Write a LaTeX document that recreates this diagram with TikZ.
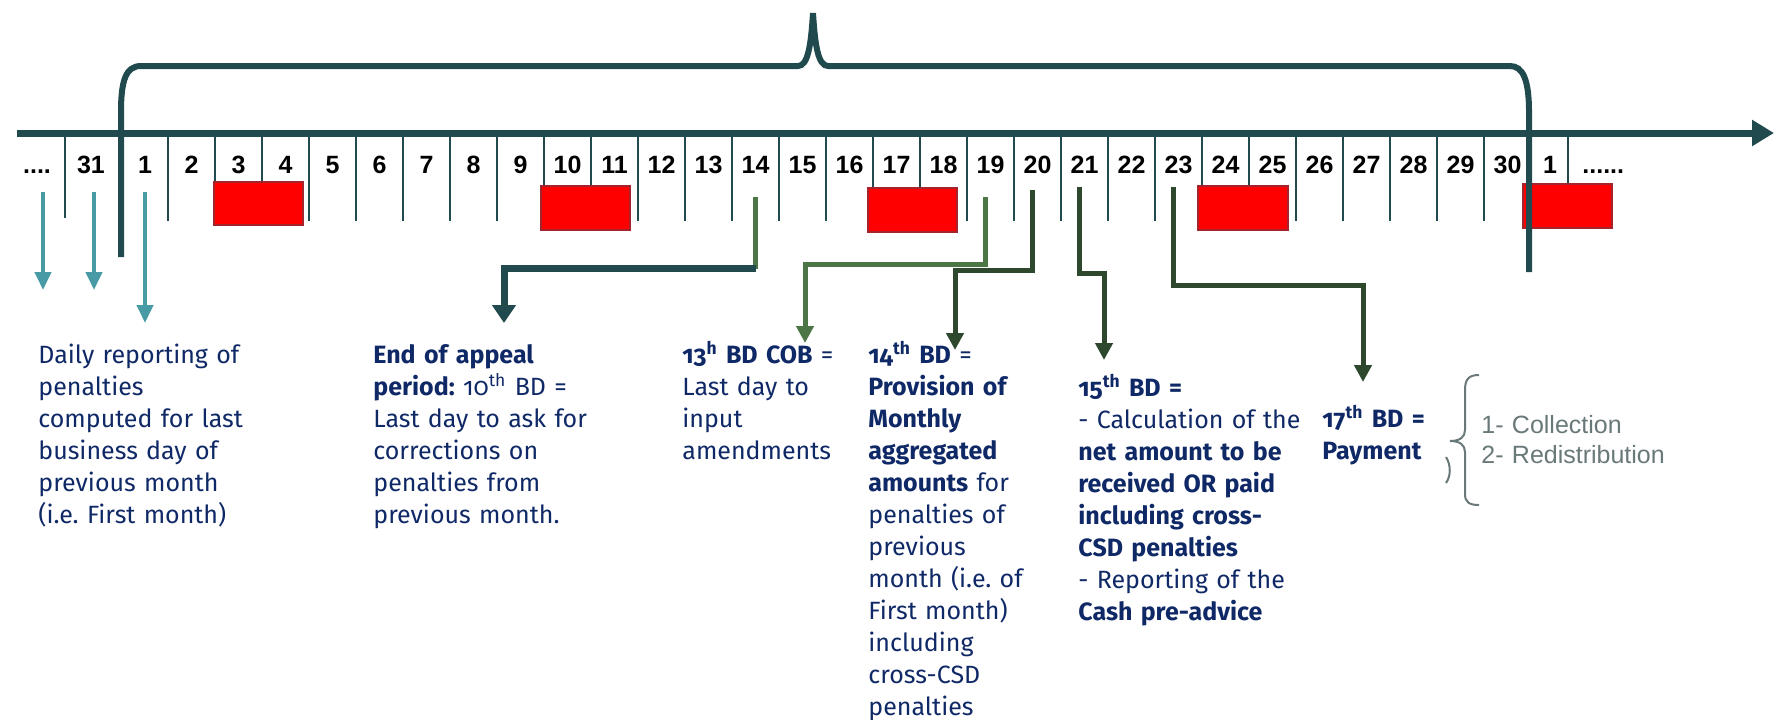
\documentclass[tikz,border=0pt]{standalone}
\usepackage{fontspec}
\setmainfont{Fira Sans}[Numbers=OldStyle,RawFeature=+onum]
\newfontfamily\dayfont{Liberation Sans}
\usetikzlibrary{arrows.meta,positioning,calc}
\frenchspacing

\definecolor{axisteal}{RGB}{33,74,78}
\definecolor{feedteal}{RGB}{72,154,164}
\definecolor{feedgreen}{RGB}{76,118,70}
\definecolor{feeddkgreen}{RGB}{46,72,45}
\definecolor{textnavy}{RGB}{15,40,102}
\definecolor{bracegrey}{RGB}{105,120,120}
\definecolor{holidayedge}{RGB}{165,35,45}

\tikzset{
  axisline/.style={axisteal, line width=3.5pt, -{Triangle[width=12.5pt,length=11pt]}},
  monthbrace/.style={axisteal, line width=3pt},
  daytick/.style={axisteal, line width=1.25pt},
  daylabel/.style={font=\dayfont\bfseries\fontsize{12.5}{14}\selectfont, inner sep=0pt,
    anchor=base, text height=9pt, text depth=0pt},
  holiday/.style={fill=red, draw=holidayedge, line width=1pt},
  notetext/.style={anchor=base west, inner sep=0pt, text width=150pt, align=left,
    text=textnavy, font=\fontsize{12.5}{16}\selectfont},
  greytext/.style={anchor=base west, inner sep=0pt, text width=120pt, align=left,
    text=bracegrey, font=\dayfont\fontsize{12.5}{15}\selectfont},
  tealfeed/.style={feedteal, line width=2pt, shorten <=9.5pt, -{Triangle[width=8pt,length=9pt]}},
  greenfeed/.style={feedgreen, line width=2.5pt, -{Triangle[width=8.5pt,length=8.5pt]}},
  dkgreenfeed/.style={feeddkgreen, line width=2.5pt, -{Triangle[width=8.5pt,length=8.5pt]}},
  heavyfeed/.style={axisteal, line width=3.5pt, -{Triangle[width=11.5pt,length=9pt]}}
}

\begin{document}
\begin{tikzpicture}[x=0.5pt,y=-0.5pt]
\useasboundingbox (0,0) rectangle (1782,719);

% time axis and ticks
\coordinate (axisstart) at (17,133);
\coordinate (axisend) at (1774,133);
\draw[axisline] (axisstart) -- (axisend);
\draw[daytick] (65,136) -- (65,218);
\foreach \i in {0,...,28}
  \draw[daytick] (168+47*\i,136) -- (168+47*\i,221);
\draw[daytick] (1568,136) -- (1568,190);

% day labels
\node[daylabel] (dprev) at (37,173) {....};
\node[daylabel] (d31) at (91,173) {31};
\node[daylabel] (d1) at (145,173) {1};
\foreach \d [evaluate=\d as \x using {168+47*(\d-2)+23.5}] in {2,...,30}
  \node[daylabel] (d\d) at (\x,173) {\d};
\node[daylabel] (dnext1) at (1550,173) {1};
\node[daylabel, anchor=base west] (dmore) at (1582,173) {......};

% non business days
\draw[holiday] (214,182) rectangle (303,225);
\draw[holiday] (541,186) rectangle (630,230);
\draw[holiday] (868,188) rectangle (957,232);
\draw[holiday] (1198,186) rectangle (1288,230);
\draw[holiday] (1523,184) rectangle (1612,228);

% month brace
\draw[monthbrace] (121,257) -- (121,112) .. controls (121,80) and (126,66) .. (141,66)
  -- (798,66) .. controls (808,66) and (811,45) .. (813,13)
  .. controls (815,45) and (818,66) .. (828,66) -- (1510,66)
  .. controls (1523,66) and (1529,80) .. (1529,112) -- (1529,272);

% notes
\node[notetext] (txtdaily) at (38,363) {Daily reporting of\\penalties\\computed for last\\business day of\\previous month\\(i.e. First month)};
\node[notetext] (txtappeal) at (373,363) {\textbf{End of appeal}\\\textbf{period:} 10\textsuperscript{th} BD =\\Last day to ask for\\corrections on\\penalties from\\previous month.};
\node[notetext] (txtamend) at (682,363) {\textbf{13\textsuperscript{h} BD COB} =\\Last day to\\input\\amendments};
\node[notetext] (txtprov) at (868,363) {\textbf{14\textsuperscript{th} BD} =\\\textbf{Provision of}\\\textbf{Monthly}\\\textbf{aggregated}\\\textbf{amounts} for\\penalties of\\previous\\month (i.e. of\\First month)\\including\\cross-CSD\\penalties};
\node[notetext] (txtcalc) at (1078,396) {\textbf{15\textsuperscript{th} BD =}\\- Calculation of the\\\textbf{net amount to be}\\\textbf{received OR paid}\\\textbf{including cross-}\\\textbf{CSD penalties}\\- Reporting of the\\\textbf{Cash pre-advice}};
\node[notetext] (txtpay) at (1322,427) {\textbf{17\textsuperscript{th} BD =}\\\textbf{Payment}};
\node[greytext] (txtsteps) at (1481,433) {1- Collection\\2- Redistribution};

% grey brace
\draw[bracegrey, line width=1pt] (1479,375) .. controls (1469,375) and (1465,379) .. (1465,390)
  -- (1465,430) .. controls (1465,437) and (1460,441) .. (1450,441)
  .. controls (1460,441) and (1465,445) .. (1465,452) -- (1465,494)
  .. controls (1465,502) and (1469,505) .. (1479,505);
\draw[bracegrey, line width=1pt] (1446,457) .. controls (1451,465) and (1451,476) .. (1446,483);

% arrow ends
\coordinate (tipprev) at (43,290);
\coordinate (tip31) at (94,290);
\coordinate (tip1) at (145,323);
\coordinate (appealtip) at (504,323);
\coordinate (amendtip) at (805,343);
\coordinate (provtip) at (955,350);
\coordinate (calctip) at (1104,360);
\coordinate (paytip) at (1363,382);

% connectors
\draw[tealfeed] (tipprev |- dprev.south) -- (tipprev);
\draw[tealfeed] (tip31 |- d31.south) -- (tip31);
\draw[tealfeed] (d1.south) -- (tip1);
\draw[greenfeed, -, shorten <=12pt] (d14.south) -- ++(0,95.5) coordinate (appealbend);
\draw[heavyfeed] (appealbend) -| (appealtip);
\draw[greenfeed, shorten <=12pt] ([xshift=-2.5pt]d19.south) -- ++(0,91.5) -| (amendtip);
\draw[dkgreenfeed, shorten <=8.5pt] ([xshift=-2.5pt]d20.south) -- ++(0,97.5) -| (provtip);
\draw[dkgreenfeed, shorten <=7pt] ([xshift=-2.5pt]d21.south) -- ++(0,100) -| (calctip);
\draw[dkgreenfeed, shorten <=7pt] ([xshift=-2.5pt]d23.south) -- ++(0,112) -| (paytip);
\end{tikzpicture}
\end{document}
